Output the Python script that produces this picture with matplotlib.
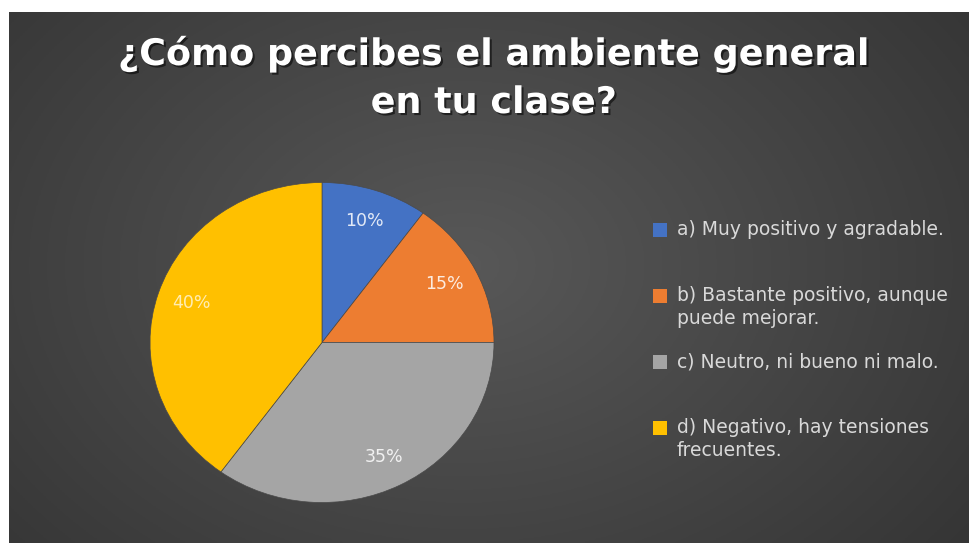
import numpy as np
import matplotlib
matplotlib.use("Agg")
from matplotlib import pyplot as plt
from matplotlib.patches import Rectangle
import matplotlib.patheffects as pe

title = "¿Cómo percibes el ambiente general\nen tu clase?"
categories = [
    "a) Muy positivo y agradable.",
    "b) Bastante positivo, aunque\npuede mejorar.",
    "c) Neutro, ni bueno ni malo.",
    "d) Negativo, hay tensiones\nfrecuentes.",
]
values = [10, 15, 35, 40]
colors = ["#4472C4", "#ED7D31", "#A5A5A5", "#FFC000"]

W, H = 969, 543
fig = plt.figure(figsize=(W / 100, H / 100), dpi=100, facecolor="white")

# panel oscuro con degradado radial suave
bg = fig.add_axes([9 / W, 0, (W - 9) / W, (H - 12) / H])
yy, xx = np.mgrid[0:200, 0:360]
d = np.sqrt(((xx - 170) / 260.0) ** 2 + ((yy - 95) / 190.0) ** 2)
shade = np.clip(0.345 - 0.15 * d, 0.175, 0.345)
bg.imshow(np.dstack([shade] * 3), aspect="auto", extent=[0, 1, 0, 1])
bg.set_xlim(0, 1)
bg.set_ylim(0, 1)
bg.axis("off")

shadow = [pe.withSimplePatchShadow(offset=(1.5, -1.5), shadow_rgbFace="black", alpha=0.55)]
for line, base in zip(title.split("\n"), [65, 113]):
    fig.text(494 / W, 1 - base / H, line, ha="center", va="baseline",
             fontsize=26.3, fontweight="bold", color="white", family="DejaVu Sans",
             path_effects=shadow)

# tarta (algo más ancha que alta, como en la referencia)
cx, cy, rx, ry = 322, 342.5, 172, 160
ax = fig.add_axes([(cx - rx) / W, (H - cy - ry) / H, 2 * rx / W, 2 * ry / H])
wedges, texts, autotexts = ax.pie(
    values, colors=colors, startangle=90, counterclock=False,
    autopct="%d%%", pctdistance=0.8,
    wedgeprops=dict(edgecolor="#4a4a4a", linewidth=0.5),
    textprops=dict(color="white", fontsize=12.5, family="DejaVu Sans"))
for t in autotexts:
    t.set_alpha(0.85)
autotexts[-1].set_alpha(0.7)
ax.set_aspect("auto")
ax.set_xlim(-1, 1)
ax.set_ylim(-1, 1)

# leyenda: entradas alineadas arriba con paso constante, como en Excel
top0, step = 220, 66
for i, (lab, col) in enumerate(zip(categories, colors)):
    top = top0 + i * step
    fig.patches.append(Rectangle((653 / W, 1 - (top + 17) / H), 14 / W, 14 / H,
                                 facecolor=col, edgecolor="none",
                                 transform=fig.transFigure, figure=fig))
    fig.text(677 / W, 1 - top / H, lab, ha="left", va="top", fontsize=13.5,
             color="#d9d9d9", family="DejaVu Sans", linespacing=1.3)

fig.savefig("out.png", dpi=100, facecolor="white")
